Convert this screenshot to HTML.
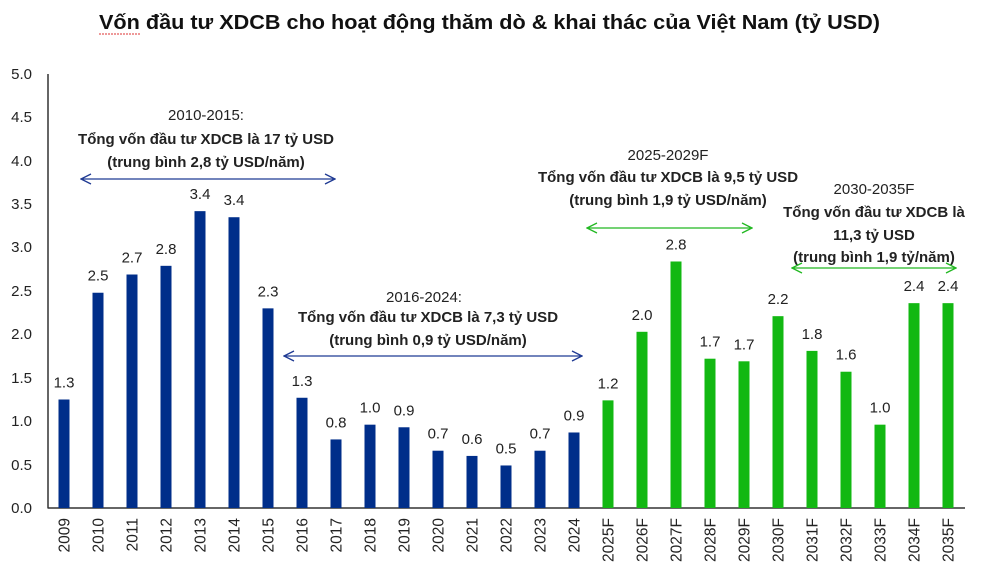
<!DOCTYPE html>
<html><head><meta charset="utf-8"><style>
body{margin:0;background:#fff;}
svg{display:block;font-family:"Liberation Sans",sans-serif;}
</style></head><body>
<svg width="983" height="580" xmlns="http://www.w3.org/2000/svg">
<defs>
<marker id="ab" markerWidth="12" markerHeight="12" refX="11" refY="6" orient="auto-start-reverse" markerUnits="userSpaceOnUse"><path d="M1,1 L11,6 L1,11" fill="none" stroke="#1f3a93" stroke-width="1.3"/></marker>
<marker id="ag" markerWidth="12" markerHeight="12" refX="11" refY="6" orient="auto-start-reverse" markerUnits="userSpaceOnUse"><path d="M1,1 L11,6 L1,11" fill="none" stroke="#22b822" stroke-width="1.3"/></marker>
</defs>
<text x="99" y="29" font-size="20" font-weight="bold" fill="#111" textLength="781" lengthAdjust="spacingAndGlyphs">Vốn đầu tư XDCB cho hoạt động thăm dò &amp; khai thác của Việt Nam (tỷ USD)</text>
<line x1="99" y1="34" x2="140" y2="34" stroke="#d33" stroke-width="1" stroke-dasharray="2,1"/>
<g font-size="15" fill="#222" text-anchor="end">
<text x="32" y="513">0.0</text><text x="32" y="470">0.5</text><text x="32" y="426">1.0</text><text x="32" y="383">1.5</text><text x="32" y="339">2.0</text><text x="32" y="296">2.5</text><text x="32" y="252">3.0</text><text x="32" y="209">3.5</text><text x="32" y="166">4.0</text><text x="32" y="122">4.5</text><text x="32" y="79">5.0</text>
</g>
<line x1="48" y1="74" x2="48" y2="508.5" stroke="#333" stroke-width="1.5"/>
<line x1="48" y1="508" x2="965" y2="508" stroke="#333" stroke-width="1.5"/>
<g id="bars"></g>
<g font-size="15" fill="#222" text-anchor="middle">
<text x="206" y="120">2010-2015:</text>
<text x="206" y="144" font-weight="bold">Tổng vốn đầu tư XDCB là 17 tỷ USD</text>
<text x="206" y="167" font-weight="bold">(trung bình 2,8 tỷ USD/năm)</text>
<text x="424" y="302">2016-2024:</text>
<text x="428" y="322" font-weight="bold">Tổng vốn đầu tư XDCB là 7,3 tỷ USD</text>
<text x="428" y="345" font-weight="bold">(trung bình 0,9 tỷ USD/năm)</text>
<text x="668" y="160">2025-2029F</text>
<text x="668" y="182" font-weight="bold">Tổng vốn đầu tư XDCB là 9,5 tỷ USD</text>
<text x="668" y="205" font-weight="bold">(trung bình 1,9 tỷ USD/năm)</text>
<text x="874" y="194">2030-2035F</text>
<text x="874" y="217" font-weight="bold">Tổng vốn đầu tư XDCB là</text>
<text x="874" y="240" font-weight="bold">11,3 tỷ USD</text>
<text x="874" y="262" font-weight="bold">(trung bình 1,9 tỷ/năm)</text>
</g>
<line x1="81" y1="179" x2="335" y2="179" stroke="#1f3a93" stroke-width="1.3" marker-start="url(#ab)" marker-end="url(#ab)"/>
<line x1="284" y1="356" x2="582" y2="356" stroke="#1f3a93" stroke-width="1.3" marker-start="url(#ab)" marker-end="url(#ab)"/>
<line x1="587" y1="228" x2="752" y2="228" stroke="#22b822" stroke-width="1.3" marker-start="url(#ag)" marker-end="url(#ag)"/>
<line x1="792" y1="268" x2="956" y2="268" stroke="#22b822" stroke-width="1.3" marker-start="url(#ag)" marker-end="url(#ag)"/>
</svg>
<script>
var v=[1.25,2.48,2.69,2.79,3.42,3.35,2.3,1.27,0.79,0.96,0.93,0.66,0.6,0.49,0.66,0.87,1.24,2.03,2.84,1.72,1.69,2.21,1.81,1.57,0.96,2.36,2.36];
var l=["1.3","2.5","2.7","2.8","3.4","3.4","2.3","1.3","0.8","1.0","0.9","0.7","0.6","0.5","0.7","0.9","1.2","2.0","2.8","1.7","1.7","2.2","1.8","1.6","1.0","2.4","2.4"];
var g=document.getElementById("bars"),s="";
for(var i=0;i<27;i++){var cx=64+i*34,h=v[i]*86.8,y=508-h,c=i<16?"#002e8a":"#12b812";
var yr=i<16?String(2009+i):String(2009+i)+"F";
s+='<rect x="'+(cx-5.5)+'" y="'+y+'" width="11" height="'+h+'" fill="'+c+'"/>';
s+='<text x="'+cx+'" y="'+(y-12)+'" font-size="15" fill="#222" text-anchor="middle">'+l[i]+'</text>';
s+='<text transform="translate('+(cx+5.5)+',518) rotate(-90)" font-size="15.5" fill="#222" text-anchor="end">'+yr+'</text>';}
g.innerHTML=s;
</script>
</body></html>
